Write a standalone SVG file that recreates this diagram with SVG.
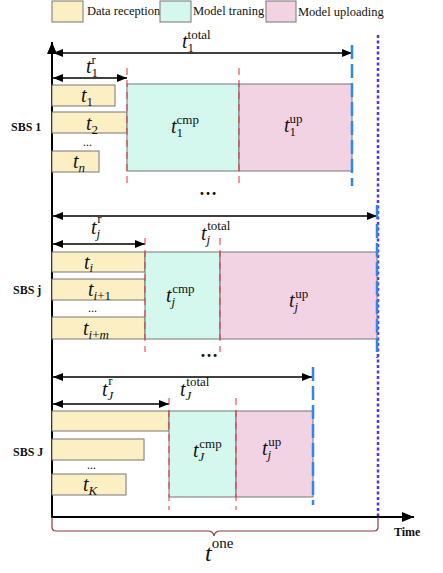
<svg xmlns="http://www.w3.org/2000/svg" width="443" height="573" viewBox="0 0 443 573">
<style>
.rx{fill:#FDEFC4;stroke:#777;stroke-width:1}
.cp{fill:#D4F8EE;stroke:#777;stroke-width:1}
.up{fill:#F2D3E3;stroke:#777;stroke-width:1}
.lg{font-family:"Liberation Serif",serif;font-size:12.5px;fill:#111}
.lb{font-family:"Liberation Serif",serif;font-size:12px;font-weight:bold;fill:#111}
.m{font-family:"Liberation Serif",serif;font-style:italic;font-size:20px;fill:#111}
.s{font-style:normal;font-size:13px}
.si{font-style:italic;font-size:13px}
.ax{stroke:#000;stroke-width:2;fill:none}
.ar{stroke:#000;stroke-width:1.6;fill:none}
.rd{stroke:#E8303A;stroke-width:1;stroke-dasharray:7 5;fill:none}
.bl{stroke:#2F86F0;stroke-width:2.5;stroke-dasharray:14 5;fill:none}
.bd{stroke:#5533EE;stroke-width:2.5;stroke-dasharray:3 2.5;fill:none}
.dt{font-family:"Liberation Serif",serif;font-size:12px;fill:#111}
.db{font-family:"Liberation Serif",serif;font-size:18px;font-weight:bold;fill:#111}
</style>
<defs>
<marker id="ah" viewBox="0 0 10 8" refX="10" refY="4" markerWidth="10" markerHeight="8" markerUnits="userSpaceOnUse" orient="auto-start-reverse">
<path d="M0,0 L10,4 L0,8 z" fill="#000"/>
</marker>
<marker id="ahb" viewBox="0 0 12 10" refX="12" refY="5" markerWidth="12" markerHeight="10" markerUnits="userSpaceOnUse" orient="auto">
<path d="M0,0 L12,5 L0,10 z" fill="#000"/>
</marker>
</defs>

<g id="legend">
<rect class="rx" x="52" y="1" width="31" height="21"/>
<text class="lg" x="87" y="15">Data reception</text>
<rect class="cp" x="160" y="1" width="31" height="21"/>
<text class="lg" x="193" y="15">Model traning</text>
<rect class="up" x="266" y="1" width="30" height="21"/>
<text class="lg" x="298" y="16">Model uploading</text>
</g>

<g id="axes">
<line class="ax" x1="52" y1="518" x2="52" y2="42" marker-end="url(#ahb)"/>
<line class="ax" x1="51" y1="517" x2="414" y2="517" marker-end="url(#ahb)"/>
<text class="lb" x="394" y="536">Time</text>
<path d="M52,517 v10 q0,4 4,4 h152 q5,0 6,5 q1,-5 6,-5 h154 q4,0 4,-4 v-10" fill="none" stroke="#8B3A3A" stroke-width="1.2"/>
<text class="m" x="205" y="561" style="font-size:24px">t<tspan class="s" dy="-13" style="font-size:15px">one</tspan></text>
<line class="bd" x1="378" y1="35" x2="378" y2="516"/>
</g>

<g id="sbs1">
<text class="lb" x="11" y="131">SBS 1</text>
<rect class="rx" x="52" y="85" width="63" height="21"/>
<rect class="rx" x="52" y="112" width="75" height="21"/>
<rect class="rx" x="52" y="151" width="47" height="21"/>
<text class="m" x="81" y="102">t<tspan class="s" dy="4">1</tspan></text>
<text class="m" x="86" y="130">t<tspan class="s" dy="4">2</tspan></text>
<text class="dt" x="83" y="146">...</text>
<text class="m" x="73" y="168">t<tspan class="si" dy="4">n</tspan></text>
<rect class="cp" x="127" y="84" width="112" height="87"/>
<rect class="up" x="239" y="84" width="113" height="87"/>
<text class="m" x="171" y="133">t<tspan class="s" dy="4">1</tspan><tspan class="s" dx="-6.5" dy="-13">cmp</tspan></text>
<text class="m" x="284" y="132">t<tspan class="s" dy="4">1</tspan><tspan class="s" dx="-6.5" dy="-13">up</tspan></text>
<text class="db" x="199" y="195">…</text>
<text class="m" x="182" y="48">t<tspan class="s" dy="4">1</tspan><tspan class="s" dx="-6.5" dy="-13">total</tspan></text>
<text class="m" x="86" y="73">t<tspan class="s" dy="4">1</tspan><tspan class="s" dx="-6.5" dy="-13">r</tspan></text>
</g>

<g id="sbsj">
<text class="lb" x="13" y="294">SBS j</text>
<rect class="rx" x="52" y="252" width="93" height="20"/>
<rect class="rx" x="52" y="279" width="93" height="21"/>
<rect class="rx" x="52" y="317" width="93" height="22"/>
<text class="m" x="84" y="269">t<tspan class="si" dy="3">i</tspan></text>
<text class="m" x="88" y="296">t<tspan class="si" dy="4">i</tspan><tspan class="s">+1</tspan></text>
<text class="dt" x="88" y="312">...</text>
<text class="m" x="83" y="335">t<tspan class="si" dy="4">i</tspan><tspan class="s">+</tspan><tspan class="si">m</tspan></text>
<rect class="cp" x="145" y="252" width="75" height="87"/>
<rect class="up" x="220" y="252" width="157" height="87"/>
<text class="m" x="166" y="302">t<tspan class="si" dy="4">j</tspan><tspan class="s" dx="-3" dy="-13">cmp</tspan></text>
<text class="m" x="289" y="307">t<tspan class="si" dy="4">j</tspan><tspan class="s" dx="-3" dy="-13">up</tspan></text>
<text class="db" x="200" y="357">…</text>
<text class="m" x="201" y="240">t<tspan class="si" dy="4">j</tspan><tspan class="s" dx="-3" dy="-14">total</tspan></text>
<text class="m" x="91" y="234">t<tspan class="si" dy="4">j</tspan><tspan class="s" dx="-3" dy="-15">r</tspan></text>
</g>

<g id="sbsJ">
<text class="lb" x="13" y="456">SBS J</text>
<rect class="rx" x="52" y="411" width="117" height="20"/>
<rect class="rx" x="52" y="439" width="92" height="21"/>
<rect class="rx" x="52" y="474" width="74" height="21"/>
<text class="dt" x="87" y="469">...</text>
<text class="m" x="83" y="491">t<tspan class="si" dy="4">K</tspan></text>
<rect class="cp" x="169" y="411" width="67" height="86"/>
<rect class="up" x="236" y="411" width="77" height="86"/>
<text class="m" x="193" y="457">t<tspan class="si" dy="4">J</tspan><tspan class="s" dx="-5" dy="-13">cmp</tspan></text>
<text class="m" x="262" y="455">t<tspan class="si" dy="4">j</tspan><tspan class="s" dx="-3" dy="-13">up</tspan></text>
<text class="m" x="180" y="396">t<tspan class="si" dy="4">J</tspan><tspan class="s" dx="-5" dy="-14">total</tspan></text>
<text class="m" x="102" y="396">t<tspan class="si" dy="4">J</tspan><tspan class="s" dx="-5" dy="-15">r</tspan></text>
</g>

<g id="connectors">
<line class="ar" x1="53" y1="53" x2="352" y2="53" marker-start="url(#ah)" marker-end="url(#ah)"/>
<line class="ar" x1="53" y1="78" x2="127" y2="78" marker-start="url(#ah)" marker-end="url(#ah)"/>
<line class="rd" x1="127" y1="68" x2="127" y2="186"/>
<line class="rd" x1="239" y1="68" x2="239" y2="186"/>
<line class="bl" x1="352" y1="45" x2="352" y2="186"/>

<line class="ar" x1="53" y1="216" x2="377" y2="216" marker-start="url(#ah)" marker-end="url(#ah)"/>
<line class="ar" x1="53" y1="244" x2="145" y2="244" marker-start="url(#ah)" marker-end="url(#ah)"/>
<line class="rd" x1="145" y1="238" x2="145" y2="352"/>
<line class="rd" x1="220" y1="238" x2="220" y2="352"/>
<line class="bl" x1="377" y1="205" x2="377" y2="358"/>

<line class="ar" x1="53" y1="377" x2="312" y2="377" marker-start="url(#ah)" marker-end="url(#ah)"/>
<line class="ar" x1="53" y1="404" x2="169" y2="404" marker-start="url(#ah)" marker-end="url(#ah)"/>
<line class="rd" x1="169" y1="398" x2="169" y2="510"/>
<line class="rd" x1="236" y1="398" x2="236" y2="510"/>
<line class="bl" x1="313" y1="367" x2="313" y2="505"/>
</g>
</svg>
